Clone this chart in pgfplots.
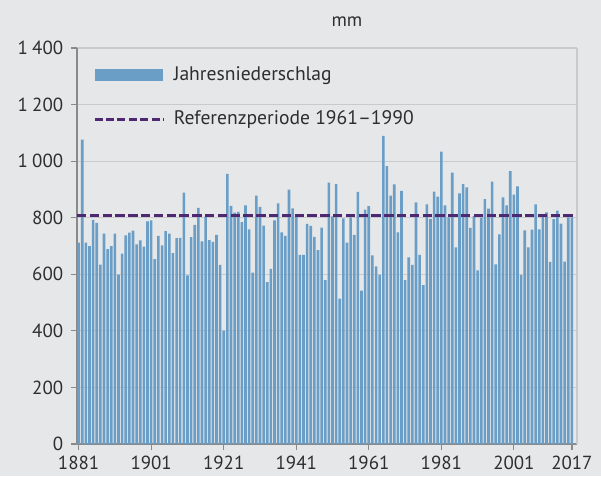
\documentclass[border=0pt]{standalone}
\usepackage{fontspec}
\setmainfont{PT Sans}
\usepackage{pgfplots}
\pgfplotsset{compat=1.18}
\definecolor{bg}{HTML}{E6E7E8}
\definecolor{gridc}{HTML}{C9CACB}
\definecolor{axisc}{HTML}{8A8A8A}
\definecolor{barc}{HTML}{6A9EC6}
\definecolor{refc}{HTML}{4E2870}
\definecolor{textc}{HTML}{2E2E2E}
\pgfplotstableread{
year val
1881 712
1882 1076
1883 712
1884 700
1885 792
1886 782
1887 634
1888 744
1889 689
1890 700
1891 744
1892 599
1893 673
1894 738
1895 747
1896 754
1897 706
1898 720
1899 698
1900 787
1901 791
1902 654
1903 736
1904 702
1905 753
1906 744
1907 675
1908 728
1909 729
1910 889
1911 596
1912 731
1913 775
1914 835
1915 716
1916 804
1917 721
1918 715
1919 739
1920 633
1921 401
1922 955
1923 842
1924 818
1925 821
1926 784
1927 844
1928 759
1929 606
1930 878
1931 838
1932 772
1933 572
1934 619
1935 791
1936 851
1937 748
1938 736
1939 899
1940 833
1941 804
1942 669
1943 669
1944 778
1945 771
1946 732
1947 685
1948 765
1949 579
1950 924
1951 805
1952 919
1953 514
1954 798
1955 712
1956 801
1957 739
1958 891
1959 542
1960 829
1961 841
1962 667
1963 628
1964 598
1965 1089
1966 982
1967 878
1968 918
1969 748
1970 895
1971 579
1972 660
1973 633
1974 854
1975 669
1976 562
1977 847
1978 796
1979 892
1980 875
1981 1034
1982 844
1983 801
1984 959
1985 695
1986 886
1987 919
1988 907
1989 764
1990 806
1991 614
1992 800
1993 866
1994 832
1995 928
1996 635
1997 741
1998 872
1999 844
2000 965
2001 882
2002 911
2003 598
2004 755
2005 695
2006 758
2007 847
2008 759
2009 807
2010 819
2011 644
2012 795
2013 825
2014 779
2015 645
2016 801
2017 801
}\precip
\begin{document}
\fontsize{14pt}{17pt}\selectfont
\begin{tikzpicture}
\fill[bg] (0pt,0pt) rectangle (450.75pt,357pt);
\useasboundingbox (0pt,0pt) rectangle (450.75pt,357pt);
\begin{axis}[
  at={(57.75pt,24pt)}, anchor=south west,
  scale only axis, width=375pt, height=297pt,
  xmin=1880.55, xmax=2018.4,
  ymin=0, ymax=1400,
  axis x line*=bottom, axis y line*=left,
  axis line style={axisc, line width=1.3pt, -},
  xtick={1881,1901,1921,1941,1961,1981,2001,2017},
  xticklabels={1881,1901,1921,1941,1961,1981,2001,2017},
  ytick={0,200,400,600,800,1000,1200,1400},
  yticklabels={0,200,400,600,800,1\hspace{0.22em}000,1\hspace{0.22em}200,1\hspace{0.22em}400},
  tick align=outside,
  major tick length=4.5pt,
  every tick/.style={axisc, line width=0.9pt},
  tick label style={text=textc, font=\fontsize{14.2pt}{17pt}\selectfont},
  yticklabel style={xshift=-1pt},
  ymajorgrids,
  grid style={gridc, line width=0.8pt},
  clip=false,
  legend cell align=left,
  legend style={draw=none, fill=none, at={(axis description cs:0,1)}, anchor=north west,
    xshift=12pt, yshift=-12pt, row sep=16.5pt, inner sep=0pt,
    font=\fontsize{14.7pt}{17pt}\selectfont, text=textc,
    nodes={inner xsep=6.5pt}},
]
\addplot[ybar, bar width=0.72, bar shift=0pt, fill=barc, draw=none,
  legend image code/.code={\fill[barc] (0pt,-4.5pt) rectangle (51.5pt,4.5pt);}]
  table[x=year, y=val] {\precip};
\addlegendentry{Jahresniederschlag}
\addplot[refc, line width=2.2pt, dash pattern=on 7pt off 2.6pt,
  legend image code/.code={\draw[refc, line width=1.9pt, dash pattern=on 6pt off 2.6pt] (0pt,0pt) -- (52pt,0pt);}]
  coordinates {(1880.55,807) (2018.4,807)};
\addlegendentry{Referenzperiode 1961–1990}
\draw[gridc, line width=0.8pt] (rel axis cs:1,0) -- (rel axis cs:1,1);
\node[text=textc, font=\fontsize{14.2pt}{17pt}\selectfont] at (axis description cs:0.54,1) [yshift=20pt] {mm};
\end{axis}
\end{tikzpicture}
\end{document}
